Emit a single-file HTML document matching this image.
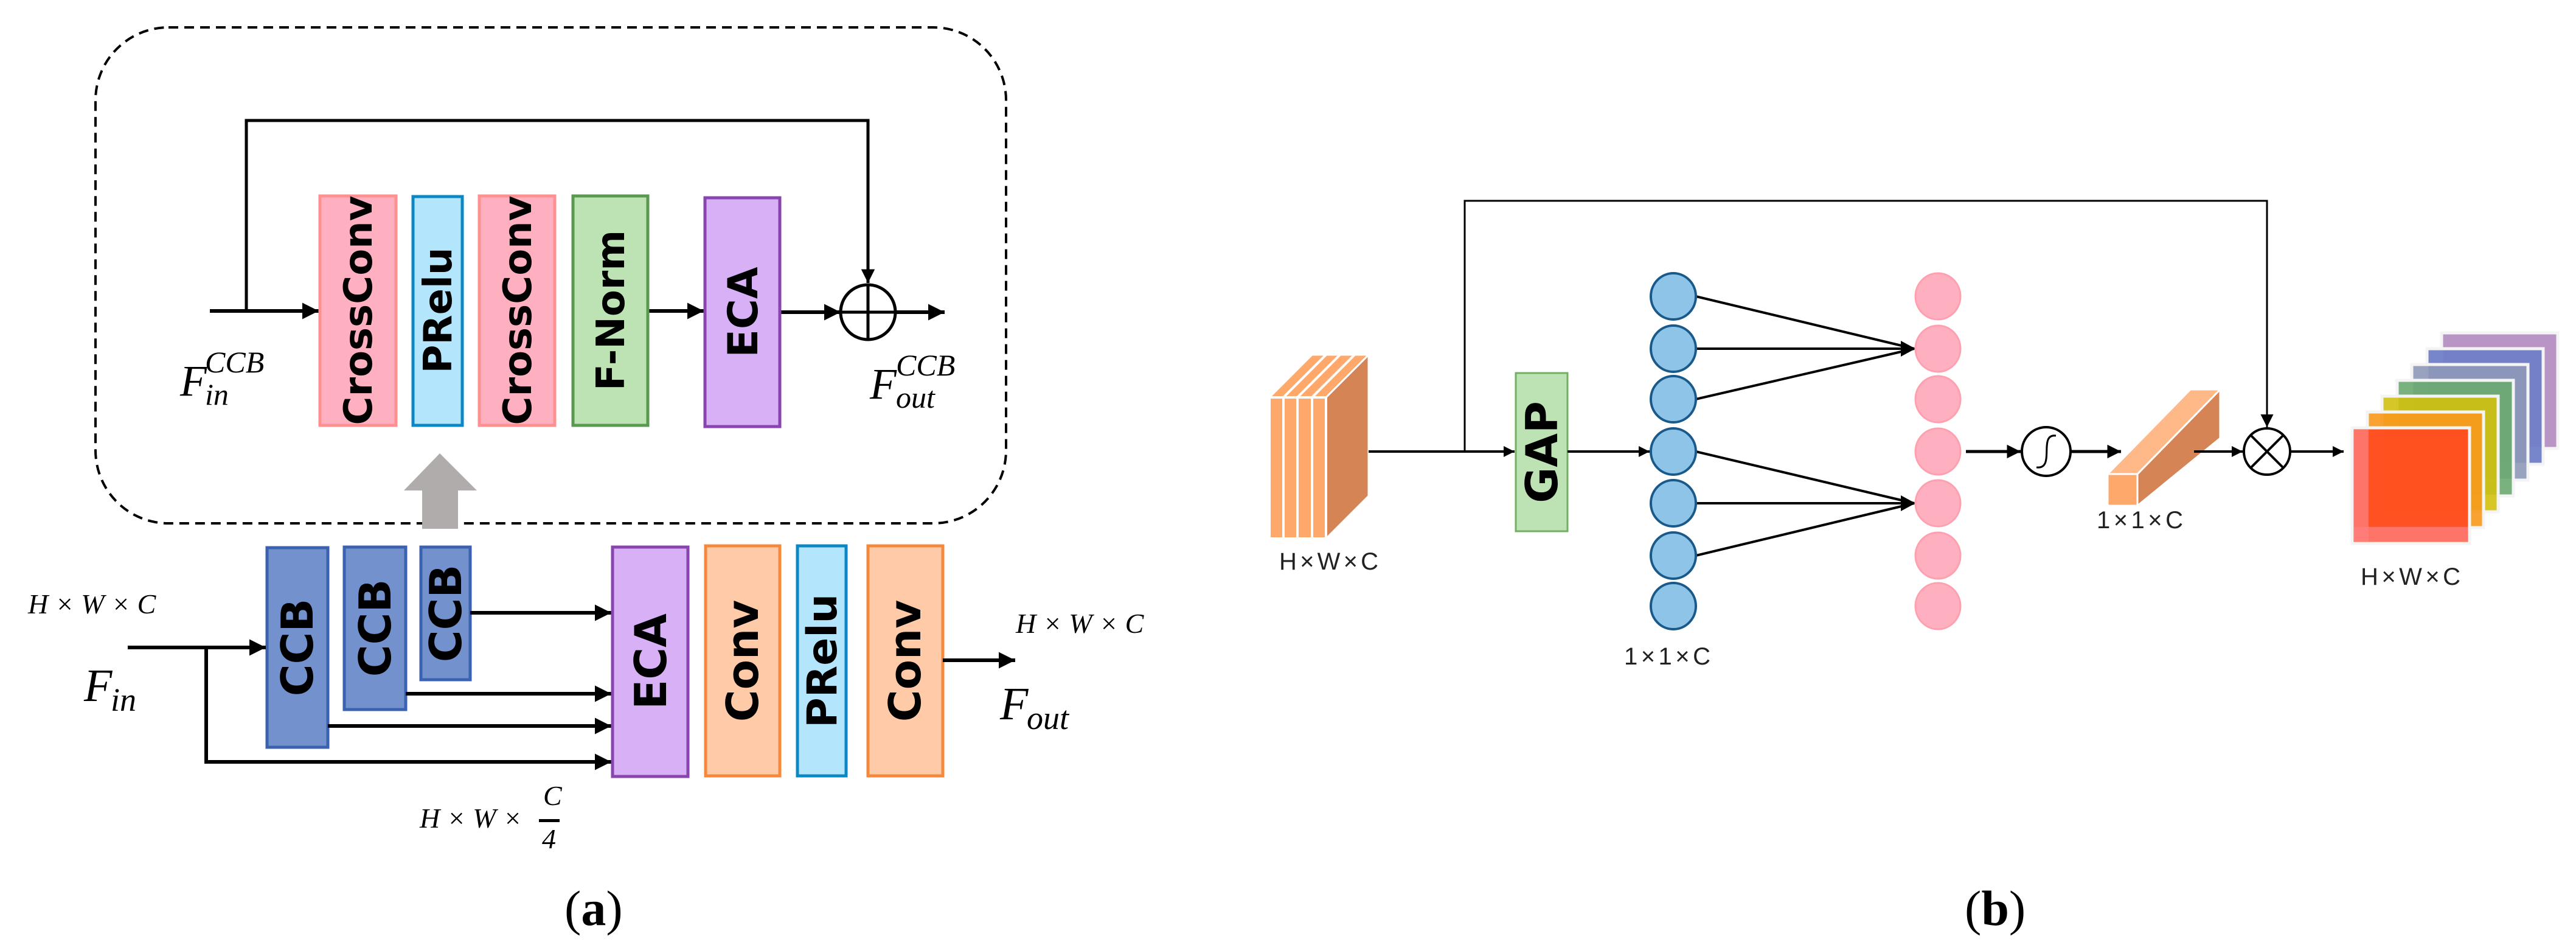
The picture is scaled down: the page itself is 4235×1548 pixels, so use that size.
<!DOCTYPE html>
<html><head><meta charset="utf-8"><style>
html,body{margin:0;padding:0;background:#fff;}
svg{display:block;}
.b{font-family:"DejaVu Sans","Liberation Sans",sans-serif;font-weight:bold;fill:#000;}
.m{font-family:"Liberation Serif",serif;font-style:italic;fill:#000;}
.s{font-family:"Liberation Sans",sans-serif;fill:#222;}
</style></head><body>
<svg width="4235" height="1548" viewBox="0 0 4235 1548" xmlns="http://www.w3.org/2000/svg">
<defs>
<marker id="ah" viewBox="0 0 10 10" refX="10" refY="5" markerWidth="4.5" markerHeight="4.5" orient="auto" markerUnits="strokeWidth"><path d="M0,0 L10,5 L0,10 z" fill="#000"/></marker>
<marker id="ah2" viewBox="0 0 10 10" refX="10" refY="5" markerWidth="7" markerHeight="7" orient="auto" markerUnits="strokeWidth"><path d="M0,0 L10,5 L0,10 z" fill="#000"/></marker>
</defs>
<!-- ===== (a) ===== -->
<rect x="157" y="45" width="1497" height="815" rx="120" fill="none" stroke="#000" stroke-width="4" stroke-dasharray="16,10"/>
<!-- skip -->
<polyline points="405,511 405,198 1427,198 1427,465" fill="none" stroke="#000" stroke-width="5" marker-end="url(#ah)"/>
<line x1="345" y1="511" x2="524" y2="511" stroke="#000" stroke-width="6" marker-end="url(#ah)"/>
<line x1="1065" y1="511" x2="1157" y2="511" stroke="#000" stroke-width="6" marker-end="url(#ah)"/>
<line x1="1282" y1="513" x2="1382" y2="513" stroke="#000" stroke-width="6" marker-end="url(#ah)"/>
<line x1="1427" y1="513" x2="1553" y2="513" stroke="#000" stroke-width="6" marker-end="url(#ah)"/>
<circle cx="1427" cy="513" r="45" fill="#fff" stroke="#000" stroke-width="5"/>
<line x1="1382" y1="513" x2="1472" y2="513" stroke="#000" stroke-width="5"/>
<line x1="1427" y1="468" x2="1427" y2="558" stroke="#000" stroke-width="5"/>
<!-- top blocks -->
<rect x="526" y="322" width="125" height="377" fill="#ffb0c0" stroke="#ff9090" stroke-width="5"/>
<rect x="679" y="323" width="81" height="376" fill="#b3e5fc" stroke="#0b88c4" stroke-width="5"/>
<rect x="788" y="322" width="124" height="377" fill="#ffb0c0" stroke="#ff9090" stroke-width="5"/>
<rect x="942" y="322" width="123" height="377" fill="#bde3b4" stroke="#5a9a50" stroke-width="5"/>
<rect x="1159" y="325" width="123" height="376" fill="#d7b0f5" stroke="#8a44b0" stroke-width="5"/>
<text class="b" font-size="64" text-anchor="middle" transform="translate(611,510) rotate(-90)">CrossConv</text>
<text class="b" font-size="64" text-anchor="middle" transform="translate(742,510) rotate(-90)">PRelu</text>
<text class="b" font-size="64" text-anchor="middle" transform="translate(873,510) rotate(-90)">CrossConv</text>
<text class="b" font-size="64" text-anchor="middle" transform="translate(1026,510) rotate(-90)">F-Norm</text>
<text class="b" font-size="68" text-anchor="middle" transform="translate(1245,513) rotate(-90)">ECA</text>
<text class="m" font-size="72" x="296" y="650">F</text>
<text class="m" font-size="50" x="337" y="612">CCB</text>
<text class="m" font-size="50" x="337" y="665">in</text>
<text class="m" font-size="72" x="1430" y="655">F</text>
<text class="m" font-size="50" x="1473" y="617">CCB</text>
<text class="m" font-size="50" x="1473" y="670">out</text>
<!-- gray arrow -->
<polygon points="723,745 784,806 753,806 753,869 694,869 694,806 664,806" fill="#b0acab"/>
<!-- bottom -->
<rect x="439" y="900" width="100" height="328" fill="#7391cc" stroke="#3a62b0" stroke-width="5"/>
<rect x="566" y="899" width="101" height="267" fill="#7391cc" stroke="#3a62b0" stroke-width="5"/>
<rect x="692" y="899" width="81" height="218" fill="#7391cc" stroke="#3a62b0" stroke-width="5"/>
<text class="b" font-size="72" text-anchor="middle" transform="translate(514,1064) rotate(-90)">CCB</text>
<text class="b" font-size="72" text-anchor="middle" transform="translate(642,1032) rotate(-90)">CCB</text>
<text class="b" font-size="72" text-anchor="middle" transform="translate(758,1008) rotate(-90)">CCB</text>
<line x1="210" y1="1064" x2="437" y2="1064" stroke="#000" stroke-width="6" marker-end="url(#ah)"/>
<polyline points="339,1064 339,1252 1005,1252" fill="none" stroke="#000" stroke-width="6" marker-end="url(#ah)"/>
<line x1="773" y1="1007" x2="1005" y2="1007" stroke="#000" stroke-width="6" marker-end="url(#ah)"/>
<line x1="667" y1="1140" x2="1005" y2="1140" stroke="#000" stroke-width="6" marker-end="url(#ah)"/>
<line x1="539" y1="1193" x2="1005" y2="1193" stroke="#000" stroke-width="6" marker-end="url(#ah)"/>
<rect x="1007" y="899" width="124" height="377" fill="#d7b0f5" stroke="#8a44b0" stroke-width="5"/>
<rect x="1160" y="897" width="122" height="378" fill="#ffcaa8" stroke="#f5883a" stroke-width="5"/>
<rect x="1311" y="897" width="80" height="378" fill="#b3e5fc" stroke="#0b88c4" stroke-width="5"/>
<rect x="1427" y="897" width="123" height="378" fill="#ffcaa8" stroke="#f5883a" stroke-width="5"/>
<text class="b" font-size="72" text-anchor="middle" transform="translate(1095,1087) rotate(-90)">ECA</text>
<text class="b" font-size="72" text-anchor="middle" transform="translate(1246,1086) rotate(-90)">Conv</text>
<text class="b" font-size="68" text-anchor="middle" transform="translate(1375,1086) rotate(-90)">PRelu</text>
<text class="b" font-size="72" text-anchor="middle" transform="translate(1513,1086) rotate(-90)">Conv</text>
<line x1="1550" y1="1085" x2="1669" y2="1085" stroke="#000" stroke-width="6" marker-end="url(#ah)"/>
<text class="m" font-size="46" x="46" y="1008">H × W × C</text>
<text class="m" font-size="46" x="1670" y="1040">H × W × C</text>
<text class="m" font-size="76" x="138" y="1152">F</text>
<text class="m" font-size="54" x="182" y="1168">in</text>
<text class="m" font-size="76" x="1644" y="1182">F</text>
<text class="m" font-size="54" x="1688" y="1198">out</text>
<text class="m" font-size="46" x="690" y="1360">H × W ×</text>
<text class="m" font-size="46" x="893" y="1323">C</text>
<rect x="886" y="1346" width="34" height="5" fill="#000"/>
<text class="m" font-size="46" x="891" y="1394">4</text>
<text font-family="Liberation Serif,serif" font-size="82" x="928" y="1520">(<tspan font-weight="bold">a</tspan>)</text>
<!-- ===== (b) ===== -->
<polyline points="2408,742 2408,330 3727,330 3727,702" fill="none" stroke="#000" stroke-width="3" marker-end="url(#ah2)"/>
<!-- input stack -->
<polygon points="2180,653 2250,583 2250,815 2180,885" fill="#d48455" stroke="#fff" stroke-width="3"/>
<polygon points="2087,653 2157,583 2250,583 2180,653" fill="#ffa86c" stroke="#fff" stroke-width="3"/>
<g stroke="#fff" stroke-width="4">
<line x1="2110" y1="653" x2="2180" y2="583"/><line x1="2133" y1="653" x2="2203" y2="583"/><line x1="2157" y1="653" x2="2227" y2="583"/></g>
<g fill="#ffa86c" stroke="#fff" stroke-width="4">
<rect x="2087" y="653" width="23" height="232"/><rect x="2110" y="653" width="23" height="232"/><rect x="2133" y="653" width="24" height="232"/><rect x="2157" y="653" width="23" height="232"/></g>
<text class="s" font-size="40" x="2103" y="936" textLength="163">H×W×C</text>
<line x1="2250" y1="742" x2="2490" y2="742" stroke="#000" stroke-width="4" marker-end="url(#ah)"/>
<rect x="2492" y="613" width="85" height="260" fill="#bde3b4" stroke="#70b060" stroke-width="3"/>
<text class="b" font-size="72" text-anchor="middle" transform="translate(2560,743) rotate(-90)">GAP</text>
<line x1="2577" y1="742" x2="2712" y2="742" stroke="#000" stroke-width="4" marker-end="url(#ah)"/>
<g stroke="#000" stroke-width="4">
<line x1="2788" y1="487" x2="3147" y2="573"/><line x1="2788" y1="573" x2="3147" y2="573"/><line x1="2788" y1="656" x2="3147" y2="573"/>
<line x1="2788" y1="742" x2="3147" y2="827"/><line x1="2788" y1="827" x2="3147" y2="827"/><line x1="2788" y1="913" x2="3147" y2="827"/></g>
<path d="M3125,560 L3149,573 L3125,586 z M3125,814 L3149,827 L3125,840 z"/>
<g fill="#8ec4e8" stroke="#1a5a8a" stroke-width="4">
<ellipse cx="2751" cy="487" rx="37" ry="38"/><ellipse cx="2751" cy="573" rx="37" ry="38"/><ellipse cx="2751" cy="656" rx="37" ry="38"/><ellipse cx="2751" cy="742" rx="37" ry="38"/><ellipse cx="2751" cy="827" rx="37" ry="38"/><ellipse cx="2751" cy="913" rx="37" ry="38"/><ellipse cx="2751" cy="996" rx="37" ry="38"/></g>
<g fill="#ffb0c0" stroke="#ffa0b0" stroke-width="3">
<ellipse cx="3186" cy="487" rx="37" ry="38"/><ellipse cx="3186" cy="573" rx="37" ry="38"/><ellipse cx="3186" cy="656" rx="37" ry="38"/><ellipse cx="3186" cy="742" rx="37" ry="38"/><ellipse cx="3186" cy="827" rx="37" ry="38"/><ellipse cx="3186" cy="913" rx="37" ry="38"/><ellipse cx="3186" cy="996" rx="37" ry="38"/></g>
<text class="s" font-size="40" x="2670" y="1092" textLength="142">1×1×C</text>
<line x1="3232" y1="742" x2="3322" y2="742" stroke="#000" stroke-width="5" marker-end="url(#ah)"/>
<circle cx="3364" cy="742" r="40" fill="#fff" stroke="#000" stroke-width="4"/>
<path d="M3380,716 C3350,712 3380,772 3348,768" fill="none" stroke="#000" stroke-width="3"/>
<line x1="3404" y1="742" x2="3487" y2="742" stroke="#000" stroke-width="5" marker-end="url(#ah)"/>
<!-- 1x1xC bar -->
<polygon points="3514,779 3650,640 3650,720 3514,831" fill="#d48455" stroke="#fff" stroke-width="3"/>
<polygon points="3465,779 3601,640 3650,640 3514,779" fill="#ffb888" stroke="#fff" stroke-width="3"/>
<rect x="3465" y="779" width="49" height="52" fill="#ffa86c" stroke="#fff" stroke-width="3"/>
<text class="s" font-size="40" x="3447" y="868" textLength="142">1×1×C</text>
<line x1="3607" y1="742" x2="3687" y2="742" stroke="#000" stroke-width="4" marker-end="url(#ah)"/>
<circle cx="3727" cy="742" r="38" fill="#fff" stroke="#000" stroke-width="4"/>
<line x1="3700" y1="715" x2="3754" y2="769" stroke="#000" stroke-width="4"/>
<line x1="3754" y1="715" x2="3700" y2="769" stroke="#000" stroke-width="4"/>
<line x1="3765" y1="742" x2="3853" y2="742" stroke="#000" stroke-width="4" marker-end="url(#ah)"/>
<!-- output stack -->
<g stroke="#f4f4f4" stroke-width="5">
<rect x="4014" y="547" width="191" height="190" fill="#b895c4"/>
<rect x="3990" y="573" width="191" height="190" fill="#7080c8" fill-opacity="0.95"/>
<rect x="3965" y="599" width="191" height="190" fill="#8e98b8" fill-opacity="0.9"/>
<rect x="3941" y="625" width="191" height="190" fill="#6aaa70" fill-opacity="0.9"/>
<rect x="3916" y="651" width="191" height="190" fill="#d2c010" fill-opacity="0.9"/>
<rect x="3892" y="677" width="191" height="190" fill="#f8981c" fill-opacity="0.9"/>
<rect x="3867" y="703" width="193" height="190" fill="#ff4a20" fill-opacity="0.92"/></g>
<rect x="3870" y="706" width="24" height="184" fill="#ff8080" opacity="0.7"/>
<rect x="3870" y="866" width="187" height="24" fill="#ff8080" opacity="0.7"/>
<text class="s" font-size="40" x="3881" y="961" textLength="164">H×W×C</text>
<text font-family="Liberation Serif,serif" font-size="82" x="3230" y="1520">(<tspan font-weight="bold">b</tspan>)</text>
</svg>
</body></html>
